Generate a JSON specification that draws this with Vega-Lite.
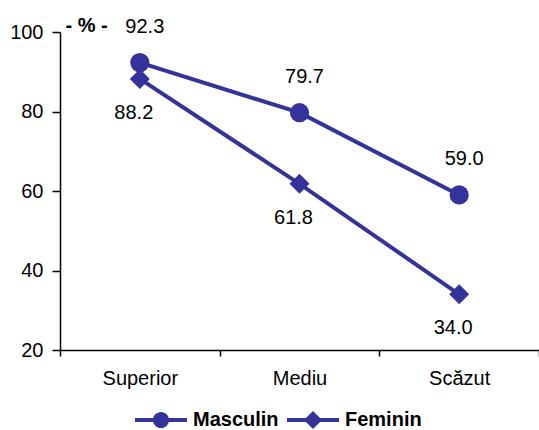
{
  "$schema": "https://vega.github.io/schema/vega-lite/v6.json",
  "width": 479,
  "height": 318,
  "autosize": {"type": "none"},
  "padding": {"left": 60, "top": 32, "right": 0, "bottom": 80},
  "background": "white",
  "config": {
    "view": {"stroke": null},
    "font": "Liberation Sans",
    "axis": {
      "domainColor": "black", "domainWidth": 1.5,
      "tickColor": "black", "tickWidth": 1.5,
      "labelColor": "black", "labelFont": "Liberation Sans", "labelFontSize": 20,
      "grid": false
    }
  },
  "data": {
    "values": [
      {"level": "Superior", "series": "Masculin", "value": 92.3},
      {"level": "Mediu", "series": "Masculin", "value": 79.7},
      {"level": "Scăzut", "series": "Masculin", "value": 59.0},
      {"level": "Superior", "series": "Feminin", "value": 88.2},
      {"level": "Mediu", "series": "Feminin", "value": 61.8},
      {"level": "Scăzut", "series": "Feminin", "value": 34.0}
    ]
  },
  "encoding": {
    "x": {
      "field": "level", "type": "nominal",
      "sort": ["Superior", "Mediu", "Scăzut"],
      "scale": {"type": "band", "paddingInner": 0, "paddingOuter": 0},
      "axis": {"title": null, "labelAngle": 0, "tickBand": "extent", "tickSize": 6, "labelPadding": 12}
    },
    "y": {
      "field": "value", "type": "quantitative",
      "scale": {"domain": [20, 100], "nice": false, "zero": false},
      "axis": {
        "values": [20, 40, 60, 80, 100], "tickSize": 8, "labelPadding": 9,
        "title": "- % -", "titleAngle": 0, "titleAlign": "left", "titleBaseline": "middle",
        "titleX": 5, "titleY": -7, "titleFontWeight": "bold", "titleFontSize": 20,
        "titleFont": "Liberation Sans", "titleColor": "black"
      }
    }
  },
  "layer": [
    {
      "mark": {"type": "line", "color": "#333399", "strokeWidth": 4},
      "encoding": {"detail": {"field": "series", "type": "nominal"}}
    },
    {
      "transform": [{"filter": "datum.series === 'Masculin'"}],
      "mark": {"type": "point", "shape": "circle", "filled": true, "opacity": 1, "color": "#333399", "size": 370}
    },
    {
      "transform": [{"filter": "datum.series === 'Feminin'"}],
      "mark": {"type": "point", "shape": "diamond", "filled": true, "opacity": 1, "color": "#333399", "size": 400}
    },
    {
      "transform": [{"filter": "datum.value < 0"}],
      "mark": {"type": "point", "filled": true, "opacity": 1, "color": "#333399"},
      "encoding": {
        "shape": {
          "field": "series", "type": "nominal",
          "scale": {
            "domain": ["Masculin", "Feminin"],
            "range": [
              "M-1,-0.077H1V0.077H-1Z M0.31,0A0.31,0.31,0,1,1,-0.31,0A0.31,0.31,0,1,1,0.31,0Z",
              "M-1,-0.077H1V0.077H-1Z M0,-0.35L0.35,0L0,0.35L-0.35,0Z"
            ]
          },
          "legend": {
            "orient": "none", "legendX": 75, "legendY": 362,
            "direction": "horizontal", "title": null, "padding": 0,
            "symbolSize": 2704, "columnPadding": 8, "labelOffset": 6, "symbolStrokeWidth": 0,
            "labelFont": "Liberation Sans", "labelFontSize": 20, "labelFontWeight": "bold", "labelColor": "black"
          }
        }
      }
    },
    {
      "transform": [{"filter": "datum.series === 'Masculin'"}],
      "mark": {"type": "text", "dx": 5, "dy": -36, "fontSize": 20, "font": "Liberation Sans", "color": "black", "baseline": "middle"},
      "encoding": {"text": {"field": "value", "type": "quantitative", "format": ".1f"}}
    },
    {
      "transform": [{"filter": "datum.series === 'Feminin'"}],
      "mark": {"type": "text", "dx": -6, "dy": 34, "fontSize": 20, "font": "Liberation Sans", "color": "black", "baseline": "middle"},
      "encoding": {"text": {"field": "value", "type": "quantitative", "format": ".1f"}}
    }
  ]
}
